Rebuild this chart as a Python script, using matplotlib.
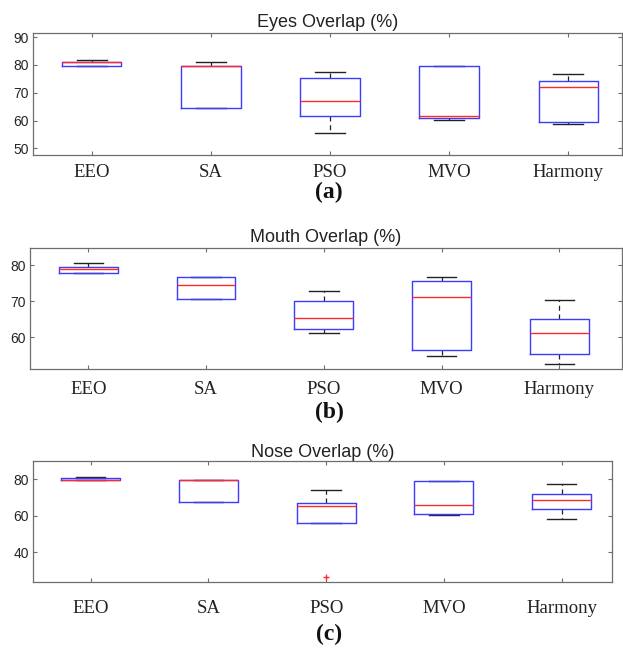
import matplotlib
matplotlib.use("Agg")
import matplotlib.pyplot as plt

# categories
methods = ["EEO", "SA", "PSO", "MVO", "Harmony"]

# Eyes overlap (%) box statistics
eyes_whislo = [79.8, 64.6, 55.4, 60.2, 58.7]
eyes_q1 = [79.8, 64.6, 61.5, 60.8, 59.4]
eyes_med = [81.0, 79.8, 66.9, 61.7, 72.1]
eyes_q3 = [81.2, 79.8, 75.2, 79.8, 74.2]
eyes_whishi = [81.7, 81.2, 77.6, 79.8, 76.6]
eyes_fliers = [[], [], [], [], []]

# Mouth overlap (%) box statistics
mouth_whislo = [77.8, 70.7, 61.1, 54.7, 52.5]
mouth_q1 = [77.8, 70.7, 62.4, 56.5, 55.4]
mouth_med = [78.9, 74.6, 65.4, 71.1, 61.1]
mouth_q3 = [79.6, 76.7, 70.0, 75.6, 65.0]
mouth_whishi = [80.6, 76.8, 72.9, 76.7, 70.4]
mouth_fliers = [[], [], [], [], []]

# Nose overlap (%) box statistics
nose_whislo = [79.5, 67.4, 56.2, 60.4, 58.1]
nose_q1 = [79.5, 67.4, 56.2, 61.2, 63.6]
nose_med = [79.8, 79.5, 65.4, 65.8, 68.7]
nose_q3 = [80.9, 79.5, 66.8, 79.2, 71.8]
nose_whishi = [81.3, 79.5, 74.3, 79.2, 77.3]
nose_fliers = [[], [], [26.6], [], []]

W, H = 623, 653
fig = plt.figure(figsize=(W / 100, H / 100), dpi=100)

panels = [
    # title, stats, yticks, ylim, xlim, pixel box (left, right, top, bottom), title pad, label pad, tag, tag baseline
    ("Eyes Overlap (%)",
     (eyes_whislo, eyes_q1, eyes_med, eyes_q3, eyes_whishi, eyes_fliers),
     [50, 60, 70, 80, 90], (47.6, 91.4), (0.51, 5.448),
     (33.3, 621.7, 33.3, 155.0), 4.7, 6.8, "(a)", 198),
    ("Mouth Overlap (%)",
     (mouth_whislo, mouth_q1, mouth_med, mouth_q3, mouth_whishi, mouth_fliers),
     [60, 70, 80], (51.1, 84.7), (0.505, 5.53),
     (30.0, 621.7, 248.3, 369.3), 4.5, 8.1, "(b)", 418),
    ("Nose Overlap (%)",
     (nose_whislo, nose_q1, nose_med, nose_q3, nose_whishi, nose_fliers),
     [40, 60, 80], (23.9, 90.0), (0.513, 5.425),
     (33.3, 611.7, 461.0, 581.7), 3.2, 13.5, "(c)", 640),
]

frame = "#6e6e6e"

for title, st, yt, ylim, xlim, (l, r, t, b), tpad, lpad, tag, tag_y in panels:
    ax = fig.add_axes([l / W, 1 - b / H, (r - l) / W, (b - t) / H])
    lo, q1, med, q3, hi, fl = st
    stats = []
    for i in range(len(methods)):
        stats.append({"whislo": lo[i], "q1": q1[i], "med": med[i], "q3": q3[i],
                      "whishi": hi[i], "fliers": fl[i]})
    ax.bxp(stats, positions=range(1, 6), widths=0.5, capwidths=0.25,
           boxprops=dict(color="#3c3cff", linewidth=1.0, zorder=3),
           medianprops=dict(color="#ff2a2a", linewidth=1.0, zorder=4),
           whiskerprops=dict(color="#222222", linestyle=(0, (4, 3)), linewidth=0.9, zorder=2),
           capprops=dict(color="#222222", linewidth=1.0, zorder=2),
           flierprops=dict(marker="+", markeredgecolor="#ff2a2a", markersize=5,
                           linestyle="none"))
    ax.set_xlim(*xlim)
    ax.set_ylim(*ylim)
    ax.set_yticks(yt)
    ax.set_xticks(range(1, 6))
    ax.set_xticklabels(methods, fontfamily="Liberation Serif", fontsize=13.5,
                       color="#222222")
    ax.tick_params(axis="x", direction="in", length=3, width=0.8, color=frame,
                   top=True, pad=lpad)
    ax.tick_params(axis="y", direction="in", length=3, width=0.8, color=frame,
                   right=True, pad=3, labelsize=10, labelcolor="#262626")
    for lab in ax.get_yticklabels():
        lab.set_fontfamily("Liberation Sans")
    for s in ax.spines.values():
        s.set_color(frame)
        s.set_linewidth(0.9)
    ax.set_title(title, fontfamily="Liberation Sans", fontsize=13, color="#222222",
                 pad=tpad)
    fig.text(329 / W, 1 - tag_y / H, tag, fontfamily="Liberation Serif",
             fontweight="bold", fontsize=17, ha="center", va="baseline",
             color="#111111")

fig.savefig("out.png", dpi=100)
